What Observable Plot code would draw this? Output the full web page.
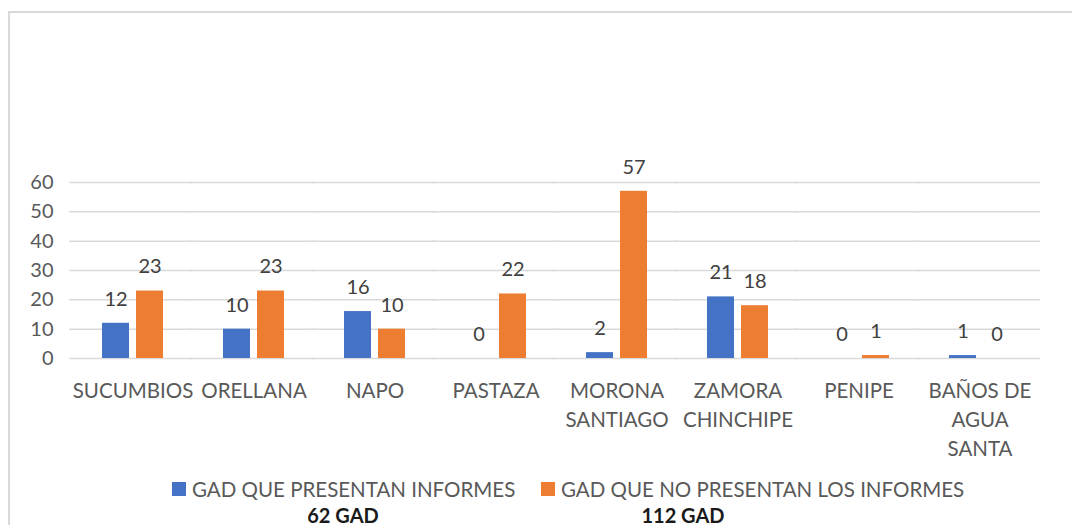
<!DOCTYPE html>
<html>
<head>
<meta charset="utf-8">
<script src="https://cdn.jsdelivr.net/npm/d3@7"></script>
<script src="https://cdn.jsdelivr.net/npm/@observablehq/plot@0.6"></script>
<style>
  html, body { margin: 0; padding: 0; background: #fff; }
  body { width: 1072px; height: 525px; overflow: hidden; position: relative; font-family: Lato, "Open Sans", sans-serif; }
  #frame { position: absolute; left: 8px; top: 11px; width: 1200px; height: 700px; border-left: 2px solid #d9d9d9; border-top: 2px solid #d9d9d9; box-sizing: border-box; }
  #chart { position: absolute; left: 0; top: 0; }
  .legend { position: absolute; top: 477px; left: 0; width: 1072px; height: 24px; font-size: 20.5px; color: #595959; }
  .item { position: absolute; top: 0; display: flex; align-items: center; white-space: nowrap; }
  .sw { width: 14px; height: 14px; margin-right: 6px; display: inline-block; }
  .total { position: absolute; top: 503px; font-size: 20px; font-weight: bold; color: #1a1a1a; transform: translateX(-50%); white-space: nowrap; }
</style>
</head>
<body>
<div id="frame"></div>
<div id="chart"></div>
<div class="legend" id="legend"></div>
<div id="totals"></div>
<script>
const categories = ["SUCUMBIOS", "ORELLANA", "NAPO", "PASTAZA", "MORONA SANTIAGO", "ZAMORA CHINCHIPE", "PENIPE", "BAÑOS DE AGUA SANTA"];
const categoryLabels = ["SUCUMBIOS", "ORELLANA", "NAPO", "PASTAZA", "MORONA\nSANTIAGO", "ZAMORA\nCHINCHIPE", "PENIPE", "BAÑOS DE\nAGUA\nSANTA"];
const seriesNames = ["GAD QUE PRESENTAN INFORMES", "GAD QUE NO PRESENTAN LOS INFORMES"];
const presentan = [12, 10, 16, 0, 2, 21, 0, 1];
const noPresentan = [23, 23, 10, 22, 57, 18, 1, 0];
const totals = ["62 GAD", "112 GAD"];
const yTicks = [0, 10, 20, 30, 40, 50, 60];
const colors = ["#4472C4", "#ED7D31"];

const data = [];
categories.forEach((c, i) => {
  data.push({category: c, series: seriesNames[0], value: presentan[i]});
  data.push({category: c, series: seriesNames[1], value: noPresentan[i]});
});
const labelOf = new Map(categories.map((c, i) => [c, categoryLabels[i]]));

const chart = Plot.plot({
  width: 1072,
  height: 470,
  marginTop: 182,
  marginBottom: 112,
  marginLeft: 68,
  marginRight: 29,
  style: {fontFamily: "Lato, 'Open Sans', sans-serif", background: "transparent"},
  fx: {domain: categories, padding: 0, label: null},
  x: {domain: seriesNames, paddingInner: 0.2, paddingOuter: 0.87, axis: null},
  y: {domain: [0, 60], ticks: yTicks, label: null},
  color: {domain: seriesNames, range: colors},
  marks: [
    Plot.ruleY(yTicks, {stroke: "#d9d9d9", strokeWidth: 1.5, strokeOpacity: 1, insetLeft: -3}),
    Plot.barY(data, {fx: "category", x: "series", y: "value", fill: "series"}),
    Plot.text(data, {fx: "category", x: "series", y: "value", text: d => String(d.value), dy: -24, fontSize: 20, fill: "#404040"}),
    Plot.axisY({ticks: yTicks, tickSize: 0, tickPadding: 19, fontSize: 20, color: "#595959", label: null}),
    Plot.axisFx({anchor: "bottom", tickSize: 0, tickPadding: 19, fontSize: 20.5, lineHeight: 1.42, color: "#595959", label: null, tickFormat: c => labelOf.get(c)})
  ]
});
document.getElementById("chart").appendChild(chart);

const legend = document.getElementById("legend");
const legendX = [172, 541];
seriesNames.forEach((s, i) => {
  const item = document.createElement("div");
  item.className = "item";
  item.style.left = legendX[i] + "px";
  item.innerHTML = `<span class="sw" style="background:${colors[i]}"></span><span>${s}</span>`;
  legend.appendChild(item);
});
const totalsX = [343, 683];
const tdiv = document.getElementById("totals");
totals.forEach((t, i) => {
  const el = document.createElement("div");
  el.className = "total";
  el.style.left = totalsX[i] + "px";
  el.textContent = t;
  tdiv.appendChild(el);
});
</script>
</body>
</html>
